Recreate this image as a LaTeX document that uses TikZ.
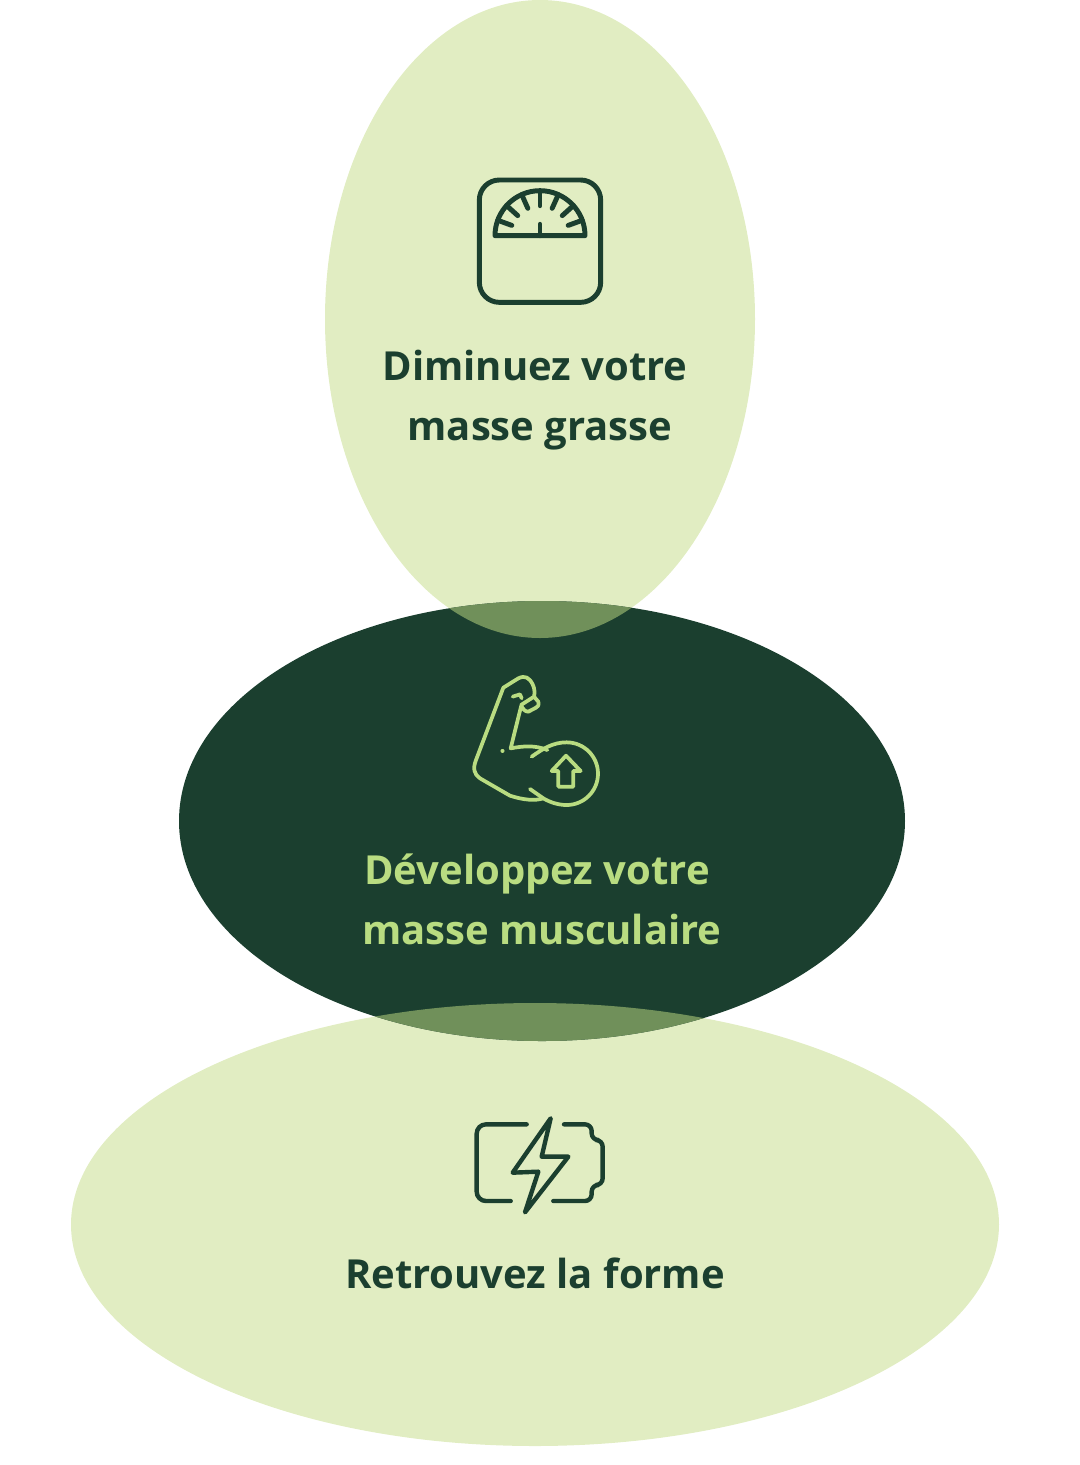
\documentclass[tikz,border=0pt]{standalone}
\usepackage{fontspec}
\setmainfont{Open Sans}
\definecolor{palegreen}{HTML}{E1EDC2}
\definecolor{darkgreen}{HTML}{1B3F2F}
\definecolor{mixgreen}{HTML}{70905A}
\definecolor{lightgreen}{HTML}{B9DC81}
\tikzset{
    label/.style={anchor=base,font=\fontsize{30}{30}\selectfont\bfseries},
    icon/.style={line width=3.7pt,line cap=round,line join=round,rounded corners=#1},
    icon/.default=0pt,
    armline/.style={icon,line width=2.8pt},
    battline/.style={icon=#1,line width=3.3pt},
    battline/.default=0pt
}
\begin{document}
\begin{tikzpicture}[x=0.75pt,y=-0.75pt]
    \useasboundingbox (0,0) rectangle (1080,1465);
    %% Ellipses
    \fill[palegreen] (540,319) ellipse [x radius=215,y radius=319];
    \fill[palegreen] (535,1224.5) ellipse [x radius=464,y radius=221.5];
    \fill[darkgreen] (542,821) ellipse [x radius=363,y radius=220];
    %% Overlaps
    \begin{scope}
        \clip (542,821) ellipse [x radius=363,y radius=220];
        \fill[mixgreen] (540,319) ellipse [x radius=215,y radius=319];
        \fill[mixgreen] (535,1224.5) ellipse [x radius=464,y radius=221.5];
    \end{scope}
    %% Scale
    \begin{scope}[shift={(460,165)},scale=1/3,darkgreen]
        \draw[icon=15pt] (58,45) rectangle (422,412);
        \draw[icon] (105,212) arc (180:360:135) -- cycle;
        \foreach \a in {20,42,66,90,114,138,160} {
            \draw[icon] (240,212) ++ (-\a:135) -- ++ (-\a+180:45);
        }
        \draw[icon] (240,212) -- (240,178);
    \end{scope}
    %% Arm
    \begin{scope}[shift={(460,665)},scale=1/3,lightgreen]
        \draw[armline] (183,125) -- (152,250) .. controls (190,243) and (225,240) .. (262,255);
        \draw[armline] (215,275) .. controls (250,250) and (280,232) .. (320,232)
            arc (-90:90:94) .. controls (295,420) and (270,412) .. (250,400) -- (210,372);
        \draw[armline] (250,400) .. controls (225,408) and (190,405) .. (150,392)
            -- (60,340) .. controls (42,328) and (38,310) .. (48,285) -- (130,68) -- (175,40)
            .. controls (195,30) and (208,38) .. (218,58) .. controls (225,72) and (224,85) .. (222,95)
            -- (235,110) .. controls (238,122) and (232,126) .. (228,128) -- (205,140)
            .. controls (195,140) and (188,132) .. (183,120) -- (222,95);
        \draw[armline] (158,95) -- (180,88) -- (185,100);
        \draw[armline] (127,257) -- (128,257);
        \draw[armline] (318,272) -- (275,318) -- (295,318) -- (295,365) -- (340,365) -- (340,318) -- (362,318) -- cycle;
    \end{scope}
    %% Battery
    \begin{scope}[shift={(460,1105)},scale=1/3,darkgreen]
        \draw[battline=7pt] (200,58) -- (50,58) -- (50,288) -- (152,288);
        \draw[battline=5pt] (312,58) -- (395,58) -- (395,105) -- (428,105) -- (428,240) -- (395,240) -- (395,288) -- (280,288);
        \draw[battline] (272,40) -- (245,155) -- (325,155) -- (195,322) -- (235,200) -- (158,203) -- cycle;
    \end{scope}
    %% Labels
    \node[label,text=darkgreen] (fat1) at (535,380) {Diminuez votre};
    \node[label,text=darkgreen] (fat2) at (540,440) {masse grasse};
    \node[label,text=lightgreen] (muscle1) at (537,884) {Développez votre};
    \node[label,text=lightgreen] (muscle2) at (542,944) {masse musculaire};
    \node[label,text=darkgreen] (shape) at (535,1288) {Retrouvez la forme};
\end{tikzpicture}
\end{document}
